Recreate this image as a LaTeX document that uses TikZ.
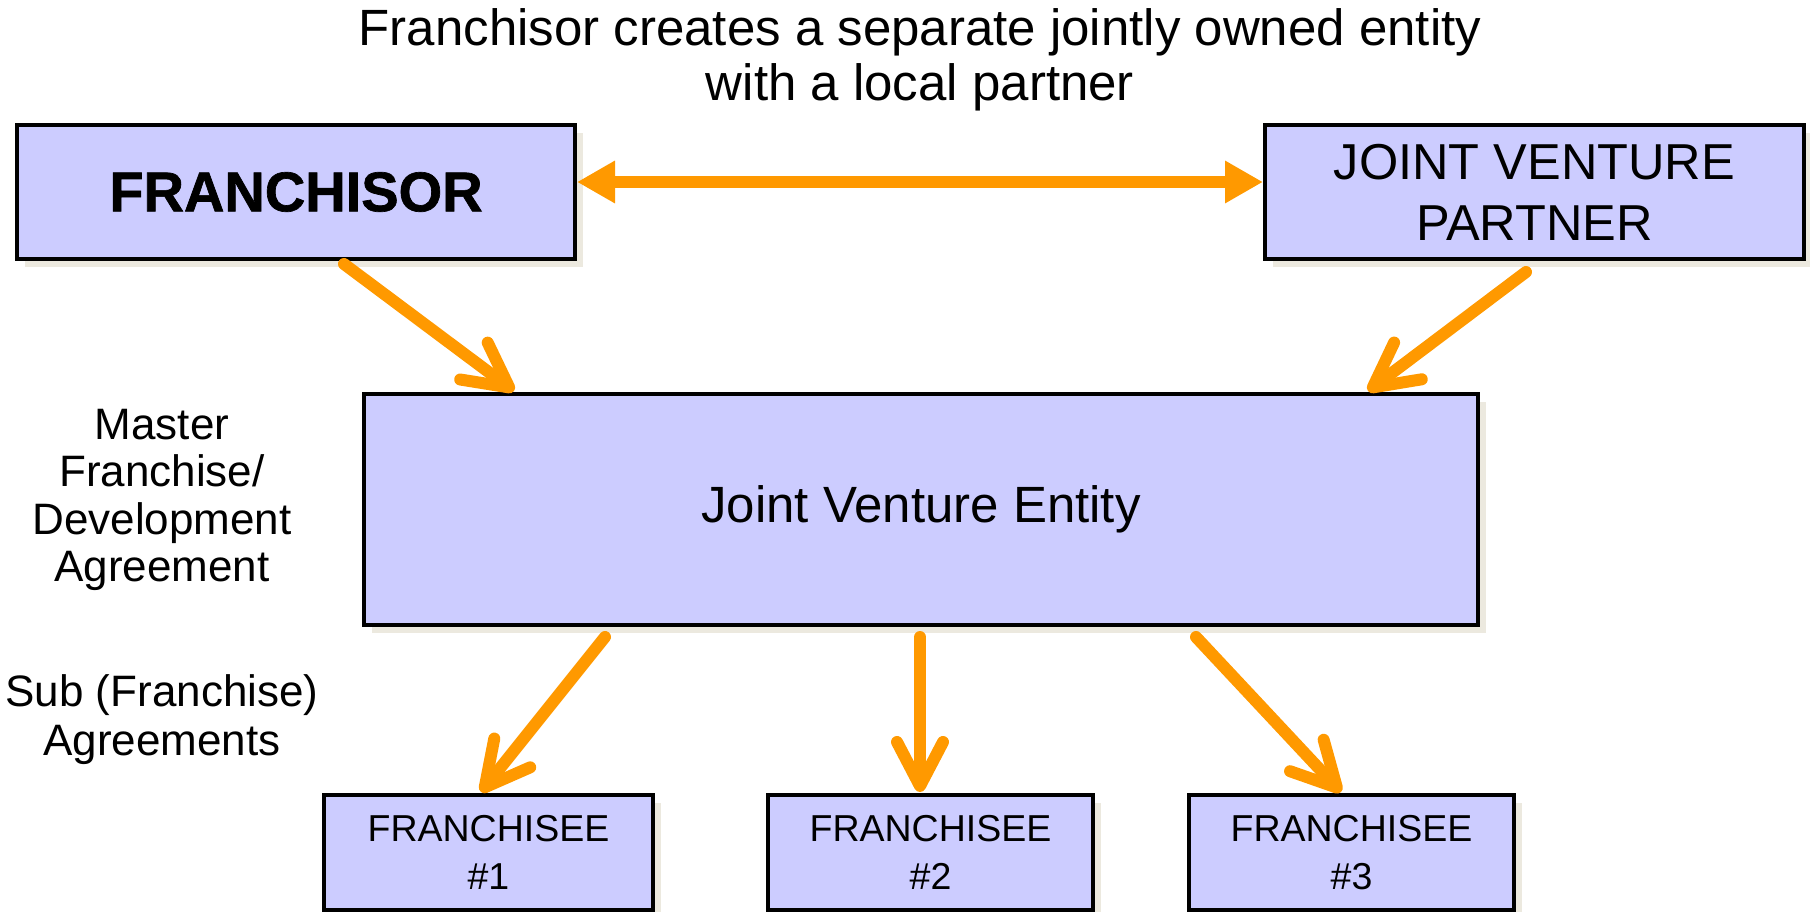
\documentclass[tikz,border=0pt]{standalone}
\usepackage{fontspec}
\setmainfont{Liberation Sans}
\newfontfamily\heavyfont[FakeBold=1.2]{Liberation Sans Bold}
\usetikzlibrary{arrows.meta,shadows}
\definecolor{boxfill}{HTML}{CCCCFF}
\definecolor{shadowc}{HTML}{ECE9DF}
\definecolor{arrowc}{HTML}{FF9900}
\begin{document}
\begin{tikzpicture}[x=1pt,y=-1pt,
  box/.style={draw=black,line width=4pt,fill=boxfill,inner sep=0pt,align=center,
    drop shadow={shadow xshift=8pt,shadow yshift=-8pt,fill=shadowc,opacity=1}},
  conn/.style={draw=arrowc,line width=12pt,line cap=round,
    -{Straight Barb[length=44pt,width=46pt,round]}},
  dconn/.style={draw=arrowc,line width=12pt,
    {Triangle[length=38pt,width=40pt]}-{Triangle[length=38pt,width=40pt]}},
  lbl/.style={align=center,inner sep=0pt}]
\useasboundingbox (0,0) rectangle (1810,912);
\node[lbl,font=\fontsize{51}{55}\selectfont] (title) at (920,60)
  {Franchisor creates a separate jointly owned entity\\with a local partner};
\node[box,minimum width=558pt,minimum height=134pt,font=\fontsize{56}{60}\heavyfont] (fr) at (296,192) {FRANCHISOR};
\node[box,minimum width=539pt,minimum height=134pt,font=\fontsize{50.5}{61}\selectfont] (jvp) at (1534.5,192) {JOINT VENTURE\\PARTNER};
\node[box,minimum width=1114pt,minimum height=231pt,font=\fontsize{51}{60}\selectfont] (jve) at (921,509.5) {Joint Venture Entity};
\node[box,minimum width=329pt,minimum height=115pt,font=\fontsize{37.5}{48}\selectfont] (f1) at (488.5,852.5) {FRANCHISEE\\\#1};
\node[box,minimum width=325pt,minimum height=115pt,font=\fontsize{37.5}{48}\selectfont] (f2) at (930.5,852.5) {FRANCHISEE\\\#2};
\node[box,minimum width=325pt,minimum height=115pt,font=\fontsize{37.5}{48}\selectfont] (f3) at (1351.5,852.5) {FRANCHISEE\\\#3};
\node[lbl,font=\fontsize{44}{47.5}\selectfont] (master) at (162,500) {Master\\Franchise/\\Development\\Agreement};
\node[lbl,font=\fontsize{44}{49}\selectfont] (sub) at (162,720) {Sub (Franchise)\\Agreements};
\draw[dconn] ([yshift=10pt]fr.east) -- ([yshift=10pt]jvp.west);
\draw[conn] ([xshift=48pt,yshift=-3pt]fr.south) -- ([xshift=-407pt,yshift=1pt]jve.north);
\draw[conn] ([xshift=-8.5pt,yshift=-11pt]jvp.south) -- ([xshift=447pt,yshift=1pt]jve.north);
\draw[conn] ([xshift=-316pt,yshift=-10pt]jve.south) -- ([xshift=-7.5pt,yshift=1pt]f1.north);
\draw[conn] ([xshift=-1pt,yshift=-10pt]jve.south) -- ([xshift=-10.5pt,yshift=1pt]f2.north);
\draw[conn] ([xshift=275pt,yshift=-10pt]jve.south) -- ([xshift=-10.5pt,yshift=1pt]f3.north);
\end{tikzpicture}
\end{document}
